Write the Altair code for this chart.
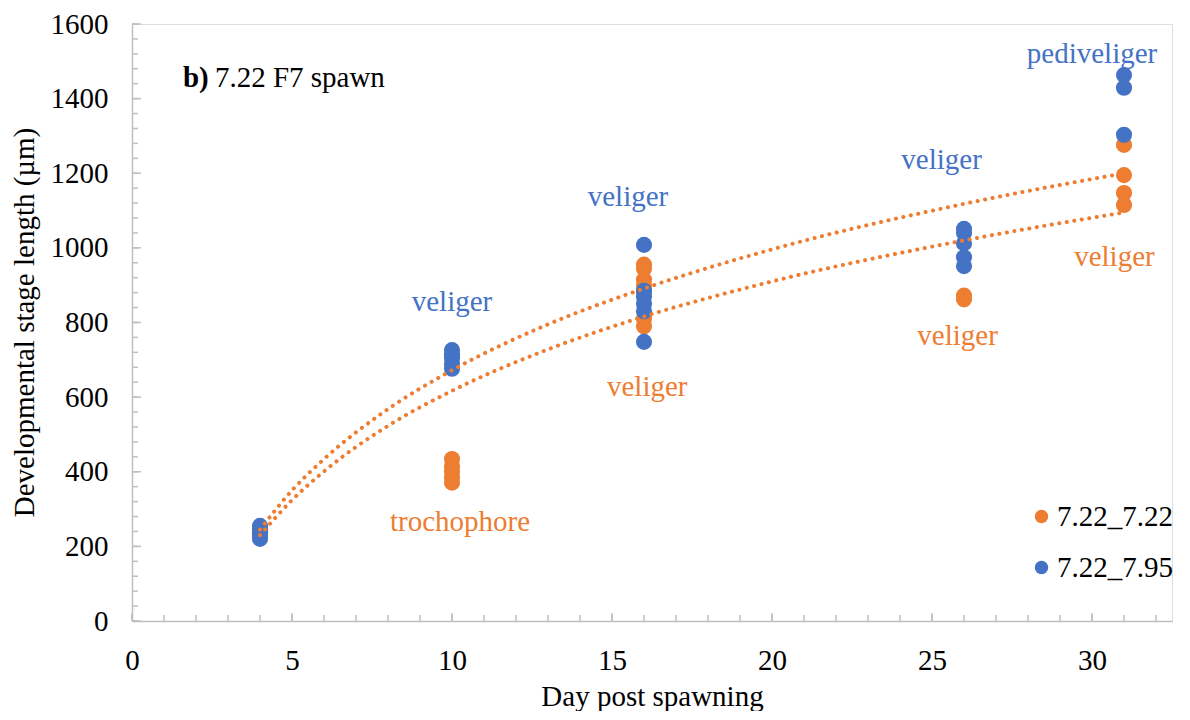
import altair as alt
import pandas as pd

FONT = "Liberation Serif"
series_names = ["7.22_7.22", "7.22_7.95"]
series_colors = ["#ED7D31", "#4472C4"]

orange_day = [4, 4, 4, 10, 10, 10, 10, 10, 16, 16, 16, 16, 16, 16, 16, 26, 26, 31, 31, 31, 31]
orange_len = [225, 235, 245, 371, 385, 400, 415, 434, 955, 945, 915, 900, 880, 810, 790, 872, 862, 1276, 1195, 1147, 1115]
blue_day = [4, 4, 4, 4, 4, 10, 10, 10, 10, 10, 16, 16, 16, 16, 16, 16, 26, 26, 26, 26, 26, 31, 31, 31]
blue_len = [220, 228, 238, 248, 255, 676, 690, 705, 715, 726, 1008, 885, 870, 850, 830, 748, 1051, 1040, 1012, 975, 951, 1463, 1429, 1303]

# Dotted trend lines
trend_day = [4, 5, 6, 8, 10, 13, 16, 20, 26, 31]
trend_upper = [245, 350, 434, 568, 672, 795, 891, 996, 1118, 1200]
trend_lower = [230, 324, 401, 523, 617, 728, 816, 910, 1020, 1095]

# Stage annotations
stage_text = ["veliger", "trochophore", "veliger", "veliger", "veliger", "veliger", "pediveliger", "veliger"]
stage_day = [10.0, 10.25, 15.5, 16.1, 25.3, 25.8, 30.0, 30.7]
stage_len = [855, 265, 1136, 627, 1236, 764, 1520, 976]
stage_series = ["7.22_7.95", "7.22_7.22", "7.22_7.95", "7.22_7.22", "7.22_7.95", "7.22_7.22", "7.22_7.95", "7.22_7.22"]

# Axis ticks
x_major_ticks = [0, 5, 10, 15, 20, 25, 30]
x_minor_ticks = list(range(0, 33))
y_major_ticks = list(range(0, 1601, 200))
y_minor_ticks = list(range(0, 1601, 40))

W, H = 1040, 597

pts = pd.DataFrame({
    "day": orange_day + blue_day,
    "len": orange_len + blue_len,
    "series": [series_names[0]] * len(orange_day) + [series_names[1]] * len(blue_day),
    "order_idx": [0] * len(orange_day) + [1] * len(blue_day),
})
trend = pd.DataFrame({
    "day": trend_day + trend_day,
    "len": trend_upper + trend_lower,
    "fit": ["upper"] * len(trend_day) + ["lower"] * len(trend_day),
})
stages = pd.DataFrame({"text": stage_text, "day": stage_day, "len": stage_len, "series": stage_series})

xscale = alt.Scale(domain=[0, 32.5], nice=False, zero=False)
yscale = alt.Scale(domain=[0, 1600], nice=False)
color_scale = alt.Scale(domain=series_names, range=series_colors)

x_axis = alt.Axis(values=x_major_ticks, title="Day post spawning", format="d", labelFlush=False,
                  labelPadding=25, titleY=75, titleBaseline="middle")
y_axis = alt.Axis(values=y_major_ticks, title="Developmental stage length (µm)", format="d",
                  labelFlush=False, labelPadding=24, titleX=-108, titleY=298,
                  titleBaseline="middle", titleAngle=270)

base_points = alt.Chart(pts).mark_circle(size=260, opacity=1).encode(
    x=alt.X("day:Q", scale=xscale, axis=x_axis),
    y=alt.Y("len:Q", scale=yscale, axis=y_axis),
    color=alt.Color("series:N", scale=color_scale, sort=series_names,
                    legend=alt.Legend(orient="none", legendX=895, legendY=478, title=None)),
    order=alt.Order("order_idx:Q"),
)

trend_lines = alt.Chart(trend).mark_line(color="#ED7D31", strokeWidth=4, strokeDash=[0.1, 7.5],
                                         strokeCap="round", interpolate="monotone").encode(
    x=alt.X("day:Q", scale=xscale, axis=x_axis),
    y=alt.Y("len:Q", scale=yscale, axis=y_axis),
    detail="fit:N",
)

stage_labels = alt.Chart(stages).mark_text(font=FONT, fontSize=29, align="center", baseline="middle").encode(
    x=alt.X("day:Q", scale=xscale, axis=x_axis),
    y=alt.Y("len:Q", scale=yscale, axis=y_axis),
    text="text:N",
    color=alt.Color("series:N", scale=color_scale, legend=None),
)

panel_df = pd.DataFrame({"day": [1.59], "len": [1455]})
panel_b = alt.Chart(panel_df).mark_text(font=FONT, fontSize=29, fontWeight="bold", align="left",
                                        baseline="middle", color="black").encode(
    x=alt.X("day:Q", scale=xscale, axis=x_axis), y=alt.Y("len:Q", scale=yscale, axis=y_axis),
    text=alt.value("b)"))
panel_rest = alt.Chart(panel_df).mark_text(font=FONT, fontSize=29, align="left", baseline="middle",
                                           color="black", dx=32).encode(
    x=alt.X("day:Q", scale=xscale, axis=x_axis), y=alt.Y("len:Q", scale=yscale, axis=y_axis),
    text=alt.value("7.22 F7 spawn"))

tick_col = "#BFBFBF"
xmaj = alt.Chart(pd.DataFrame({"t": x_major_ticks})).mark_rule(color=tick_col, strokeWidth=1.5).encode(
    x=alt.X("t:Q", scale=xscale, axis=x_axis), y=alt.value(H), y2=alt.value(H - 8))
xmin = alt.Chart(pd.DataFrame({"t": x_minor_ticks})).mark_rule(color=tick_col, strokeWidth=1.5).encode(
    x=alt.X("t:Q", scale=xscale, axis=x_axis), y=alt.value(H), y2=alt.value(H - 6))
ymaj = alt.Chart(pd.DataFrame({"t": y_major_ticks})).mark_rule(color=tick_col, strokeWidth=1.5).encode(
    y=alt.Y("t:Q", scale=yscale, axis=y_axis), x=alt.value(0), x2=alt.value(9))
ymin = alt.Chart(pd.DataFrame({"t": y_minor_ticks})).mark_rule(color=tick_col, strokeWidth=1.5).encode(
    y=alt.Y("t:Q", scale=yscale, axis=y_axis), x=alt.value(0), x2=alt.value(6))

chart = alt.layer(
    xmin, xmaj, ymin, ymaj, base_points, trend_lines, stage_labels, panel_b, panel_rest
).properties(
    width=W, height=H,
    autosize=alt.AutoSizeParams(type="none"),
    padding={"left": 124, "top": 16, "right": 10, "bottom": 90},
).configure_view(stroke=None).configure(
    background="white"
).configure_axis(
    labelFont=FONT, labelFontSize=29, labelColor="black",
    titleFont=FONT, titleFontSize=29, titleFontWeight="normal", titleColor="black",
    ticks=False, tickSize=0, grid=False, domainColor="#BFBFBF", domainWidth=1.5,
).configure_legend(
    symbolType="circle", symbolSize=180, labelFont=FONT, labelFontSize=29, labelColor="black",
    rowPadding=21, labelOffset=1, symbolStrokeWidth=0, symbolOpacity=1,
)

chart.save("out.html", embed_options={"renderer": "svg", "actions": False})
